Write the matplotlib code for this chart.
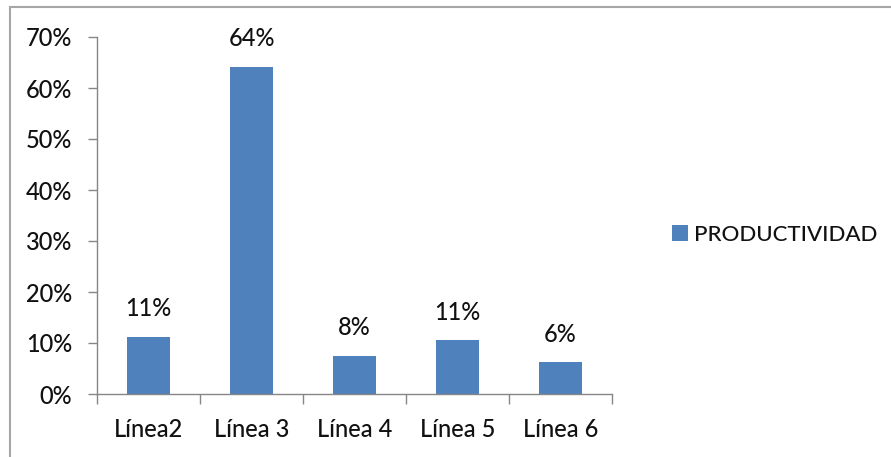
import matplotlib
matplotlib.use("Agg")
import matplotlib.pyplot as plt
from matplotlib.patches import Rectangle
from matplotlib.ticker import FixedLocator, PercentFormatter

categories = ["Línea2", "Línea 3", "Línea 4", "Línea 5", "Línea 6"]
values = [0.112, 0.642, 0.075, 0.105, 0.062]
value_labels = ["11%", "64%", "8%", "11%", "6%"]
series_name = "PRODUCTIVIDAD"
yticks = [0.0, 0.1, 0.2, 0.3, 0.4, 0.5, 0.6, 0.7]

plt.rcParams['font.family'] = ['Lato', 'DejaVu Sans']

W, H = 891, 457
fig = plt.figure(figsize=(W / 100, H / 100), dpi=100)
fig.patch.set_facecolor("white")

# outer chart border
fig.add_artist(Rectangle((10 / W, -0.05), 1.1, 1 - 7 / H + 0.05,
                         transform=fig.transFigure, fill=False,
                         edgecolor="#a6a6a6", linewidth=1.5))

ax = fig.add_axes([97 / W, 1 - 394 / H, (612 - 97) / W, (394 - 37) / H])
x = list(range(len(categories)))
bars = ax.bar(x, values, width=0.42, color="#4f81bd", label=series_name, zorder=2)

txt = "#111111"
for xi, v, lab in zip(x, values, value_labels):
    ax.annotate(lab, (xi, v), xytext=(0, 12), textcoords="offset points",
                ha="center", va="bottom", fontsize=17, color=txt, fontweight="medium")

ax.set_xlim(-0.5, len(categories) - 0.5)
ax.set_ylim(0, 0.7)
ax.yaxis.set_major_locator(FixedLocator(yticks))
ax.yaxis.set_major_formatter(PercentFormatter(1.0, decimals=0))
ax.set_xticks(x)
ax.set_xticklabels(categories, fontweight="medium")
ax.xaxis.set_minor_locator(FixedLocator([i - 0.5 for i in range(len(categories) + 1)]))
ax.tick_params(axis="x", which="major", length=0, pad=17, labelsize=17, labelcolor=txt)
ax.tick_params(axis="x", which="minor", length=7, width=1, color="#868686", direction="out")
ax.tick_params(axis="y", which="major", length=6.5, width=1, color="#868686",
               direction="out", pad=11.5, labelsize=17, labelcolor=txt)
for t in ax.get_yticklabels():
    t.set_fontweight("medium")

for s in ["top", "right"]:
    ax.spines[s].set_visible(False)
for s in ["left", "bottom"]:
    ax.spines[s].set_color("#868686")
    ax.spines[s].set_linewidth(1)

leg = ax.legend(loc="center left", bbox_to_anchor=(672 / W, 1 - 235 / H),
                bbox_transform=fig.transFigure, frameon=False, fontsize=16,
                handlelength=0.73, handleheight=0.73, handletextpad=0.25,
                borderpad=0, borderaxespad=0)
for t in leg.get_texts():
    t.set_color(txt)
    t.set_fontweight("medium")

fig.savefig("out.png", dpi=100, facecolor="white")
